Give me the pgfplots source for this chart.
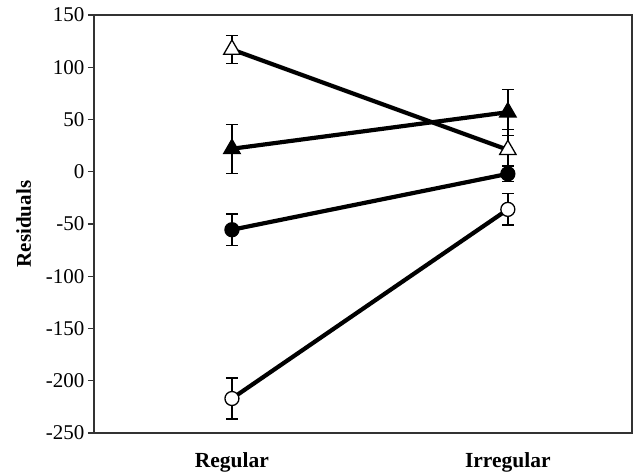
\documentclass[border=0pt]{standalone}
\usepackage{pgfplots}
\pgfplotsset{compat=1.18}
\usepackage{fontspec}
\setmainfont{Liberation Serif}
\begin{document}
\begin{tikzpicture}
\begin{axis}[
    scale only axis, width=538pt, height=418pt,
    xmin=-0.5, xmax=1.45, ymin=-250, ymax=150,
    xtick={0,1}, xticklabels={Regular,Irregular},
    x tick label style={font=\fontsize{21.5}{24}\selectfont\bfseries, yshift=-10pt},
    major x tick style={draw=none},
    ytick={-250,-200,...,150},
    y tick label style={font=\fontsize{21}{24}\selectfont},
    /pgf/number format/assume math mode=true,
    ytick pos=left, tick align=outside, major tick length=6pt,
    ylabel={Residuals}, ylabel style={font=\fontsize{21}{24}\selectfont\bfseries, yshift=8pt},
    axis line style={draw=black!80, line width=1.3pt},
    every tick/.style={draw=black!80, line width=1.3pt},
    error bars/y dir=both, error bars/y explicit,
    error bars/error bar style={line width=1.3pt, black},
    error bars/error mark options={rotate=90, mark size=6pt, line width=1.3pt, black},
    clip=false,
]
% open triangles
\addplot[black, line width=4.2pt, mark=triangle*, mark size=9.5pt, mark options={fill=white, line width=1.3pt}]
  coordinates {(0,117) +- (0,13.5) (1,21) +- (0,19.5)};
% filled triangles
\addplot[black, line width=4.2pt, mark=triangle*, mark size=9.5pt, mark options={fill=black, line width=1.3pt}]
  coordinates {(0,22) +- (0,23.5) (1,57) +- (0,22)};
% filled circles
\addplot[black, line width=4.2pt, mark=*, mark size=7pt, mark options={fill=black, line width=1.3pt}]
  coordinates {(0,-55.5) +- (0,15) (1,-2) +- (0,7.5)};
% open circles
\addplot[black, line width=4.2pt, mark=*, mark size=7pt, mark options={fill=white, line width=1.3pt}]
  coordinates {(0,-217) +- (0,19.5) (1,-36) +- (0,15)};
\end{axis}
\pgfresetboundingbox
\useasboundingbox ([shift={(-94pt,-41pt)}]current axis.south west) rectangle ([shift={(12pt,15pt)}]current axis.north east);
\end{tikzpicture}
\end{document}
